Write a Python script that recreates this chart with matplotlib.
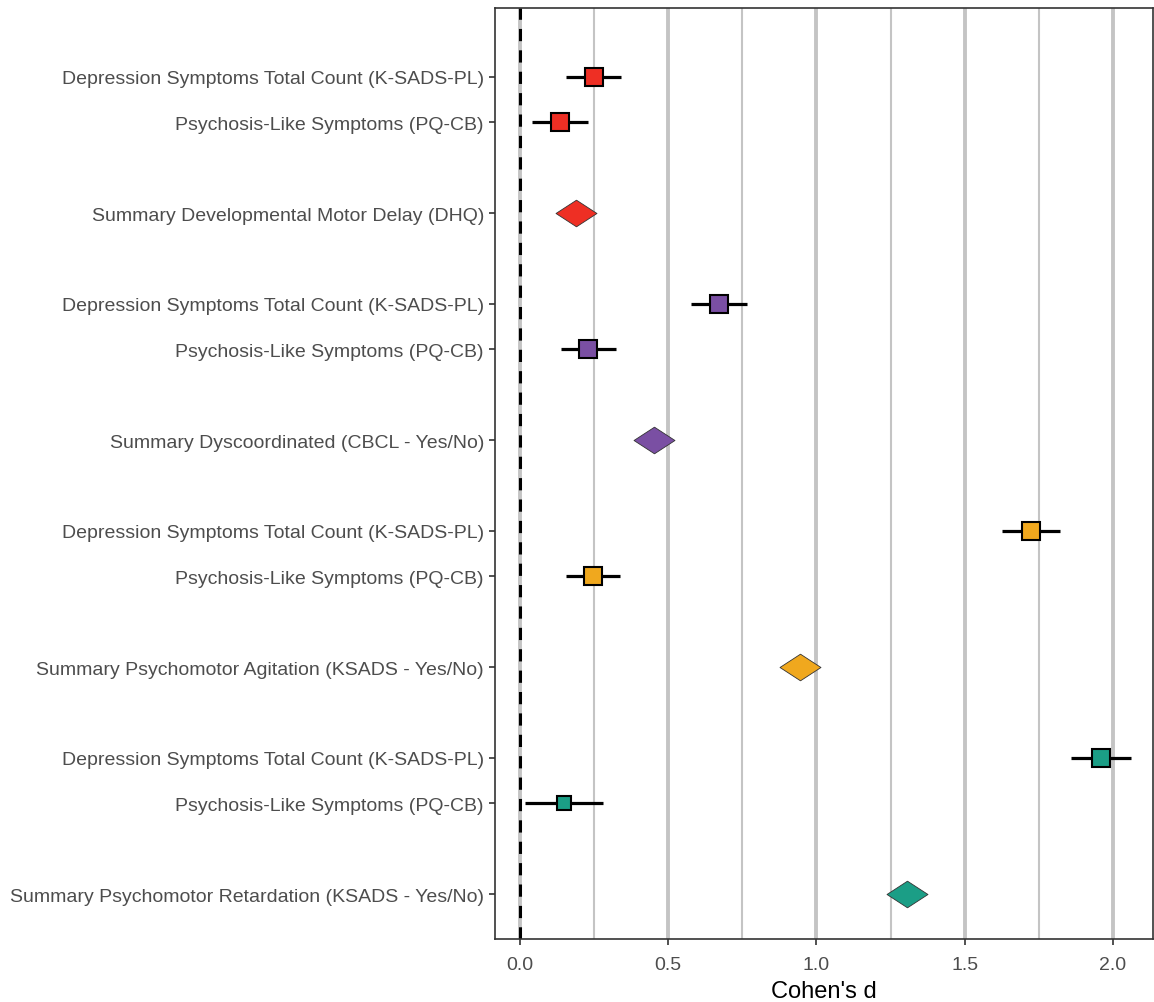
import matplotlib
matplotlib.use("Agg")
import matplotlib.pyplot as plt
import numpy as np
from matplotlib.path import Path

labels = [
    "Depression Symptoms Total Count (K-SADS-PL)",
    "Psychosis-Like Symptoms (PQ-CB)",
    "Summary Developmental Motor Delay (DHQ)",
    "Depression Symptoms Total Count (K-SADS-PL)",
    "Psychosis-Like Symptoms (PQ-CB)",
    "Summary Dyscoordinated (CBCL - Yes/No)",
    "Depression Symptoms Total Count (K-SADS-PL)",
    "Psychosis-Like Symptoms (PQ-CB)",
    "Summary Psychomotor Agitation (KSADS - Yes/No)",
    "Depression Symptoms Total Count (K-SADS-PL)",
    "Psychosis-Like Symptoms (PQ-CB)",
    "Summary Psychomotor Retardation (KSADS - Yes/No)",
]
positions = [0, 1, 3, 5, 6, 8, 10, 11, 13, 15, 16, 18]
estimates = [0.25, 0.135, 0.19, 0.672, 0.23, 0.453, 1.723, 0.247, 0.946, 1.96, 0.149, 1.307]
ci_low = [0.155, 0.04, None, 0.578, 0.138, None, 1.625, 0.155, None, 1.86, 0.017, None]
ci_high = [0.34, 0.23, None, 0.767, 0.324, None, 1.82, 0.338, None, 2.06, 0.28, None]
kinds = ["sq", "sq", "dia", "sq", "sq", "dia", "sq", "sq", "dia", "sq", "sq", "dia"]
sizes = [13, 13, 29.5, 13, 13, 29.5, 13, 13, 29.5, 13, 9.5, 29.5]
group_colors = ["#ee2f24", "#7a4fa3", "#f0a81e", "#1b9e86"]
groups = [0, 0, 0, 1, 1, 1, 2, 2, 2, 3, 3, 3]
xticks = [0.0, 0.5, 1.0, 1.5, 2.0]
minor_ticks = [0.25, 0.75, 1.25, 1.75]

plt.rcParams['font.family'] = ['Liberation Sans', 'DejaVu Sans']

fig = plt.figure(figsize=(11.54, 10.03), dpi=100)
ax = fig.add_axes([495/1154, 63/1003, (1153-495)/1154, (940-9)/1003])

diamond = Path([(-1, 0), (0, 0.65), (1, 0), (0, -0.65), (-1, 0)],
               [Path.MOVETO, Path.LINETO, Path.LINETO, Path.LINETO, Path.CLOSEPOLY])

for x in xticks:
    ax.axvline(x, color="#c4c4c4", lw=2.8, zorder=0)
for x in minor_ticks:
    ax.axvline(x, color="#c4c4c4", lw=1.5, zorder=0)
ax.axvline(0, color="black", lw=2.2, ls=(0, (4, 3)), zorder=1)

for i in range(len(labels)):
    c = group_colors[groups[i]]
    y = positions[i]
    if kinds[i] == "sq":
        ax.plot([ci_low[i], ci_high[i]], [y, y], color="black", lw=2.3, zorder=2, solid_capstyle="butt")
        ax.plot(estimates[i], y, marker="s", ms=sizes[i], mfc=c, mec="black", mew=1.5, zorder=3, ls="none")
    else:
        ax.plot(estimates[i], y, marker=diamond, ms=sizes[i], mfc=c, mec="#333333", mew=0.6, zorder=3, ls="none")

ax.set_xlim(-0.084, 2.135)
ax.set_ylim(18.99, -1.52)
ax.set_yticks(positions)
ax.set_yticklabels(labels)
ax.set_xticks(xticks)
ax.set_xticklabels([f"{v:.1f}" for v in xticks])
ax.tick_params(axis="both", labelsize=14, colors="#333333", labelcolor="#4d4d4d", length=4, width=1.2)
ax.tick_params(axis="x", pad=8)
ax.tick_params(axis="y", pad=4)
for s in ax.spines.values():
    s.set_color("#333333")
    s.set_linewidth(1.2)
ax.set_xlabel("Cohen's d", fontsize=17, color="black", labelpad=5)

fig.savefig("out.png", dpi=100)
